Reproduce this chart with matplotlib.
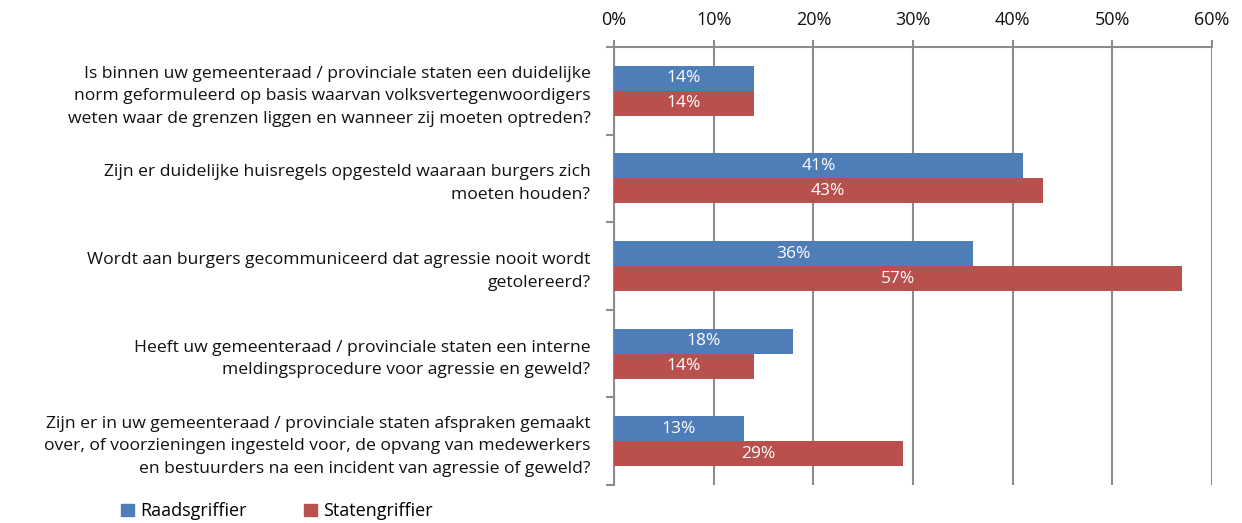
import matplotlib.pyplot as plt
import matplotlib.ticker as mticker
from matplotlib.patches import Patch
import numpy as np

questions = [
    "Is binnen uw gemeenteraad / provinciale staten een duidelijke\nnorm geformuleerd op basis waarvan volksvertegenwoordigers\nweten waar de grenzen liggen en wanneer zij moeten optreden?",
    "Zijn er duidelijke huisregels opgesteld waaraan burgers zich\nmoeten houden?",
    "Wordt aan burgers gecommuniceerd dat agressie nooit wordt\ngetolereerd?",
    "Heeft uw gemeenteraad / provinciale staten een interne\nmeldingsprocedure voor agressie en geweld?",
    "Zijn er in uw gemeenteraad / provinciale staten afspraken gemaakt\nover, of voorzieningen ingesteld voor, de opvang van medewerkers\nen bestuurders na een incident van agressie of geweld?",
]
raadsgriffier = [14, 41, 36, 18, 13]
statengriffier = [14, 43, 57, 14, 29]
series_names = ["Raadsgriffier", "Statengriffier"]

blue = "#4F7DB8"
red = "#BA504E"
grey = "#8C8C8C"
plt.rcParams["font.family"] = ["Open Sans", "DejaVu Sans"]

fig = plt.figure(figsize=(12.42, 5.23), dpi=100)
ax = fig.add_axes([0.4944, 0.0727, 0.4814, 0.8373])

y = np.arange(len(questions))
h = 0.285
bars_b = ax.barh(y - h / 2, raadsgriffier, height=h, color=blue, zorder=3)
bars_r = ax.barh(y + h / 2, statengriffier, height=h, color=red, zorder=3)

for bars, vals in ((bars_b, raadsgriffier), (bars_r, statengriffier)):
    for bar, v in zip(bars, vals):
        ax.text(v / 2, bar.get_y() + bar.get_height() / 2, f"{v}%",
                ha="center", va="center", color="white", fontsize=12.5, zorder=4)

ax.set_xlim(0, 60)
ax.set_ylim(len(questions) - 0.5, -0.5)
ax.xaxis.tick_top()
ax.xaxis.set_major_locator(mticker.MultipleLocator(10))
ax.xaxis.set_major_formatter(mticker.FuncFormatter(lambda v, p: f"{v:.0f}%"))
ax.tick_params(axis="x", length=5, width=1.5, color=grey, labelsize=13, pad=8, labelcolor="#111111")
ax.grid(axis="x", color=grey, linewidth=1.5, zorder=0)

# category boundaries carry the y tick marks, labels sit on the centres
ax.set_yticks(np.arange(len(questions) + 1) - 0.5)
ax.set_yticklabels([])
ax.set_yticks(y, minor=True)
ax.set_yticklabels(questions, minor=True, fontsize=12.6, ha="right", color="#111111",
                   linespacing=1.55)
ax.tick_params(axis="y", which="major", length=6, width=1.5, color=grey)
ax.tick_params(axis="y", which="minor", length=0, pad=17)

for side in ("right", "bottom"):
    ax.spines[side].set_visible(False)
for side in ("left", "top"):
    ax.spines[side].set_color(grey)
    ax.spines[side].set_linewidth(1.5)

handles = [Patch(color=blue), Patch(color=red)]
fig.legend(handles, series_names, loc="center left", bbox_to_anchor=(0.0915, 0.022),
           ncol=2, frameon=False, fontsize=13, handlelength=0.7, handleheight=0.7,
           handletextpad=0.35, columnspacing=3.2, borderaxespad=0)

fig.savefig("out.png", dpi=100)
